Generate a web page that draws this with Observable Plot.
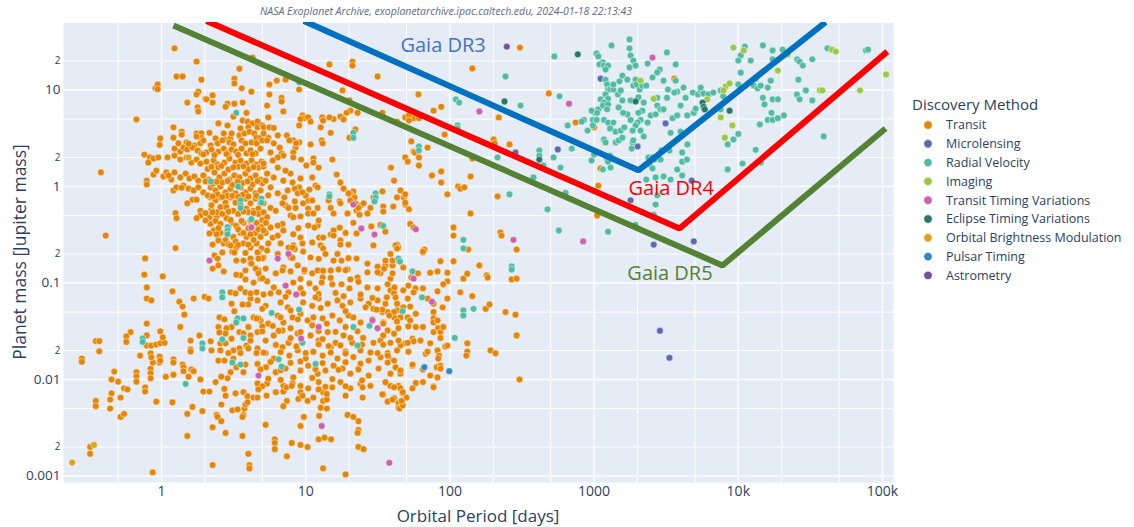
<!DOCTYPE html>
<html><head><meta charset="utf-8">
<script src="https://cdn.jsdelivr.net/npm/d3@7"></script>
<script src="https://cdn.jsdelivr.net/npm/@observablehq/plot@0.6"></script>
<style>
body{margin:0;background:#fff;}
#chart{width:1134px;height:527px;}
</style></head><body><div id="chart"></div>
<script>
const methods = ["Transit","Microlensing","Radial Velocity","Imaging","Transit Timing Variations","Eclipse Timing Variations","Orbital Brightness Modulation","Pulsar Timing","Astrometry"];
const methodColors = ["#E58606","#5D69B1","#52BCA3","#99C945","#CC61B0","#24796C","#DAA51B","#2F8AC4","#764E9F"];

// [orbital period (days), planet mass (Jupiter masses)]
const transitGiants = [
[1.23,27],[1.75,19.7],[1.27,13.8],[1.4,13.8],[1.89,12.8],[0.91,10.4],[0.94,11.4],[0.94,10.2],[1.8,9.6],[1.75,9.0],[2.02,8.1],[2.26,8.8],[3.2,13.1],[3.2,11.7],[3.47,16.6],[4.28,21.6],[3.6,10.4],[4.2,9.6],[5.6,11.4],[5.6,9.0],[6.3,12.5],[6.8,8.3],[7.25,12.8],[14.6,18.4],[18,9.9],[21.1,19.7],[21.1,17.9],[31.5,13.8],[60.5,9.0],[1.51,7.4],[2.26,7.4],[2.05,8.0],[1.78,6.6],[1.8,6.0],[0.67,4.95],[1.21,4.1],[1.38,3.7],[1.38,3.45],[1.21,3.2],[0.98,3.15],[0.97,2.7],[0.76,2.14],[0.83,2.0],[0.81,1.77],[0.88,1.95],[0.95,2.0],[0.38,1.4],[0.41,0.31],[0.79,1.15],[0.79,1.05],[0.88,1.33],[0.92,1.46],[1.25,0.53],[1.27,0.47],[1.25,0.23],
[2.87,7.2],[2.78,6.7],[3.2,7.2],[3.65,7.4],[3.88,5.8],[3.15,5.3],[3.65,4.83],[3.95,4.7],[4.28,4.5],[4.63,4.7],[2.48,4.5],[2.87,4.29],[3.53,4.0],[4.0,4.1],[4.63,4.1],[5.0,4.29],
[1.75,3.55],[1.89,3.55],[1.89,3.2],[1.75,3.3],[2.15,3.6],[2.37,3.15],[2.7,3.55],[2.73,3.07],[3.0,3.15],[3.06,3.55],[3.47,3.38],[3.76,3.55],[4.07,3.7],[4.4,3.55],[4.56,3.2],[4.86,3.2],
[1.49,2.86],[1.69,2.66],[1.86,2.8],[1.95,3.0],[2.19,2.66],[2.45,2.8],[2.64,3.0],[2.96,2.86],[3.15,2.73],[3.59,3.0],[3.82,2.8],[4.21,2.86],[4.56,2.8],[5.0,3.0],
[1.23,2.47],[1.35,2.3],[1.42,2.53],[1.51,2.42],[1.64,2.53],[1.78,2.36],[1.89,2.2],[2.05,2.25],[2.22,2.42],[2.48,2.3],[2.7,2.47],[2.91,2.25],[3.06,2.42],[3.3,2.3],[3.59,2.47],[3.88,2.2],[4.14,2.36],[4.49,2.2],[4.86,2.47],
[1.1,2.0],[1.23,2.09],[1.35,1.9],[1.49,2.0],[1.61,1.77],[1.75,1.9],[1.86,1.73],[2.05,1.81],[2.3,1.86],[2.45,1.69],[2.73,1.77],[2.96,1.95],[3.26,1.77],[3.53,1.86],[3.88,1.73],[4.21,1.86],[4.56,1.69],[4.93,1.81],
[1.03,1.27],[1.08,1.4],[1.17,1.18],[1.23,1.4],[1.35,1.24],[1.47,1.36],[1.56,1.21],[1.69,1.27],[1.8,1.15],[1.95,1.3],[2.12,1.18],[2.33,1.4],[2.52,1.24],[2.73,1.36],[2.96,1.18],[3.2,1.3],[3.47,1.24],[3.82,1.36],[4.14,1.21],[4.49,1.3],[4.86,1.18],
[1.21,0.91],[1.42,1.02],[1.54,0.95],[1.67,0.91],[1.8,0.98],[1.95,0.87],[2.19,0.98],[2.37,0.91],[2.56,1.0],[2.78,0.87],[3.01,0.95],[3.26,0.85],[3.53,0.98],[3.82,0.87],[4.14,0.95],[4.49,0.85],[4.86,0.91],
[1.64,0.73],[1.75,0.73],[1.51,0.67],[1.86,0.56],[1.86,0.5],[1.75,0.47],[2.22,0.58],[2.15,0.48],[2.41,0.49],
[2.19,0.77],[2.37,0.72],[2.56,0.77],[2.78,0.68],[3.01,0.77],[3.26,0.68],[3.82,0.75],[4.14,0.67],[4.49,0.75],[4.86,0.67],
[2.22,0.64],[2.56,0.61],[2.82,0.61],[3.15,0.56],[3.88,0.59],[4.35,0.56],[4.7,0.59],
[2.19,0.41],[2.37,0.44],[2.56,0.41],[2.82,0.47],[3.06,0.42],[3.3,0.39],[3.7,0.42],[4.14,0.38],[4.56,0.42],[4.93,0.38],
[2.3,0.35],[2.56,0.33],[2.82,0.33],[3.15,0.3],[3.53,0.33],[3.88,0.3],[4.49,0.33],[4.86,0.3],
[2.48,0.276],[2.7,0.257],[3.01,0.245],[3.3,0.233],[3.7,0.257],[4.14,0.233],[4.56,0.257],[4.93,0.228],
[2.09,1.52],[2.48,1.58],[2.91,1.5],[3.4,1.6],[4.0,1.51],[4.7,1.57],
[2.26,1.07],[2.64,1.1],[3.1,1.04],[3.65,1.09],[4.28,1.05],[5.0,1.08],
[2.09,0.81],[2.45,0.83],[2.87,0.8],[3.65,0.82],
[2.02,0.53],[2.41,0.54],[2.64,0.52],[2.91,0.55],[3.4,0.52],[4.0,0.54],[4.7,0.52],
[2.48,0.37],[2.91,0.38],[3.4,0.36],[4.0,0.37],[4.7,0.36],
[2.78,0.28],[3.26,0.27],[4.35,0.28],
[1.95,2.15],[2.33,2.12],[2.82,2.17],[3.4,2.13],[4.28,2.16],
[2.22,1.6],[2.6,1.63],[3.15,1.58],[3.7,1.62],[4.35,1.59],[5.1,1.61],
[2.02,1.13],[2.41,1.12],[2.87,1.14],[3.37,1.12],[3.95,1.13],[4.63,1.14],
[2.26,0.79],[2.64,0.78],[3.1,0.8],[3.4,0.78],[4.0,0.79],[4.56,0.8],
[2.26,0.54],[3.7,0.55],[4.35,0.53],[5.1,0.54],
[2.02,0.445],[3.01,0.45],[3.59,0.44],[4.14,0.445],[5.0,0.45],
[2.15,0.326],[2.41,0.32],[3.7,0.33],[4.14,0.32],[5.27,0.33],
[2.26,0.25],[2.91,0.252],[3.4,0.248],[4.0,0.25],
[2.64,0.207],[3.1,0.21],[3.82,0.205],[4.7,0.208],
[1.31,2.8],[1.54,2.78],[1.27,0.98],[1.38,0.97],[1.12,1.3]
];
const transitWarm = [
[8.2,3.0],[9.0,2.86],[8.5,2.53],[8.2,2.25],[6.8,2.2],[8.2,2.0],[9.3,1.9],[8.9,0.91],[9.0,0.98],[8.1,1.1],[8.4,0.95],[7.85,1.36],[9.2,1.21],[8.4,0.7],[8.8,0.85],[7.5,0.91],[7.1,0.77],[7.25,0.635],[7.6,0.6],[7.85,0.5],[8.2,0.48],[8.9,0.37],[8.2,0.32],[9.2,0.296],[8.2,0.245],[8.4,0.225],[6.9,0.41],[6.4,0.394],[5.7,0.376],[5.9,0.296],[6.4,0.31],[5.5,0.257],[6.8,7.6],[5.4,6.9],[7.0,6.0],[5.5,5.2],
[5.1,4.1],[5.6,4.1],[6.0,4.05],[5.1,3.55],[5.5,3.2],[6.4,3.38],[5.4,3.0],[6.0,2.8],[6.6,2.53],[7.4,3.38],[7.7,3.0],[8.6,2.8],[9.0,4.29],[7.0,2.09],[6.4,2.0],[5.7,2.25],[5.1,1.73],[5.9,1.86],[6.4,1.57],[7.25,1.46],[5.4,1.36],[6.0,1.24],[7.0,1.15],[5.7,0.98],[6.4,0.85],[5.1,0.67],[5.7,0.6],[6.9,0.67],[8.5,0.6],[5.4,0.48],[5.1,0.35],[7.0,0.35],[6.7,0.257],[7.6,0.233],[6.4,0.2],[7.85,0.184],[5.1,0.184],[5.27,1.15],[5.5,0.81],[6.2,0.56],[5.3,0.42],
[9.5,5.45],[9.7,5.1],[9.2,5.0],[10.4,5.2],[10.8,4.7],[13.0,5.2],[12.7,4.1],[14.9,3.6],[17.4,5.3],[18.3,4.95],[20.4,6.1],[22.9,5.8],[20.1,3.2],[34,5.8],[43,4.7],[49,5.2],[52,5.6],[56,5.1],[61,5.1],[77,6.1],[87,6.7],[92,3.45],[70,2.53],[54,2.93],[56,2.3],[49,2.0],[51,1.81],[61,1.65],[39,1.57],[41,1.15],[75,1.3],[87,1.43],[87,1.1],[96,0.83],
[10.8,2.73],[11.3,1.95],[11.3,1.77],[10.1,1.65],[12.3,1.57],[15.3,1.9],[16.4,1.33],[17.4,1.1],[18.3,0.95],[21.4,0.89],[20.4,0.83],[17.2,0.7],[34,0.89],[24,0.635],[22.5,0.564],[23.6,0.51],[34.5,0.62],[34.5,0.55],[40.5,0.62],[48,0.77],[49,0.65],[52,0.58],[21.4,0.42],[28.5,0.385],[35.7,0.34],[53,0.41],[29.5,0.245],[43,0.25],[44,0.232],[66.5,0.222],[17.2,0.375],[17.4,0.276],[17.4,0.25],[19.8,0.25],[22.5,0.326],[12.1,0.394],[11.5,0.376],[10.4,0.394],[10.4,0.59],[10.4,0.525],[10.4,0.716],[10,0.807],[11.1,1.24],[11.7,1.02],[12.1,0.98],[10.6,0.93],[9.6,0.67],[9.2,0.49],[9.5,0.257],[11.1,0.263],[12.4,0.296],[13.2,0.296],[14.9,0.318],[12.7,0.245],[13.2,0.228],
[12.9,3.0],[13.1,2.8],[19.8,0.85],[21.8,0.77],[22.1,0.67],[9.5,0.87],[11.1,0.716],[12.1,0.6],[11.3,0.525],[12.3,0.444],[14.4,0.716],[14.9,0.6],[15.6,0.525],[17.4,0.67],[19.5,0.525],[20.4,0.716],[23.2,0.6],[25.2,0.67],[28.1,0.6],[26.8,0.525],[29.5,0.77],[43,0.77],[45.4,0.91],[15.6,0.35],[15.6,0.31],[18.9,0.33],[13.2,4.83],[19.2,5.8],[20.1,7.8],[22.1,3.9],[15.6,5.0],[14.6,5.2],[9.0,10.1],
[306,27.5],[143,16.7],[218,5.2],[52,5.45],[52,4.83],[57,2.25],[61,2.0],[143,1.95],[139,1.27],[49,0.83],[49,0.68],[114,1.0],[118,0.95],[126,0.98],[139,0.525],[106,0.376],[106,0.31],[56,0.376],[33,0.4],[42,0.245],[65,0.207],[134,0.222],[224,0.334],[228,0.31],[290,0.222],[201,3.07],[204,2.8],[259,2.73],[214,0.79],[485,9.2],[745,4.6],[1000,4.1],[1108,1.54],[1070,1.02],[1050,0.5],[3600,13.1]
];
const transitSmall = [
[86,0.168],[106,0.168],[160,0.152],[73,0.128],[82,0.132],[96,0.128],[96,0.104],[124,0.111],[132,0.125],[180,0.12],[183,0.114],[268,0.109],[290,0.111],[54,0.114],[44,0.171],[35.7,0.152],[40,0.152],[40,0.171],[33,0.126],[38.7,0.111],[38.7,0.084],[41,0.078],[42,0.071],[51.5,0.094],[57.7,0.088],[70,0.069],[77,0.061],[89,0.056],[96,0.069],[118,0.08],[143,0.073],[177,0.054],[188,0.06],[243,0.05],[285,0.047],[290,0.0286],[77,0.05],[77,0.043],[77,0.039],[82,0.041],[77,0.031],[83,0.034],[86,0.031],[93,0.022],[82,0.02],[84,0.0177],[81,0.0134],[86,0.0139],[86,0.013],[82,0.0105],[77,0.0085],[68,0.0185],[55,0.0139],[58,0.0092],[65,0.0127],[132,0.0237],[132,0.0195],[130,0.0177],[191,0.02],[207,0.0187],[304,0.01],[55,0.0265],[56,0.0249],[49,0.0237],[45.4,0.0225],[41,0.0298],[44,0.034],[37,0.0322],[34.5,0.039],[35.7,0.061],[34,0.05],[41,0.044],[45.4,0.044],[51,0.044],[53,0.041],[58,0.048],[51.5,0.0355],[58,0.035],[47,0.052],[53,0.057],[43,0.052],[47.5,0.056],[37,0.05],[33,0.0253],[34.5,0.023],[37,0.0188],[37.5,0.017],[37,0.015],[42,0.0134],[41,0.0157],[33,0.017],[45.4,0.0115],[35.7,0.0093],[38.7,0.0086],[34.5,0.007],[37,0.0059],[41,0.0064],[44,0.0086],[45.4,0.0081],[47,0.0072],[44,0.0057],[47,0.0054],[50,0.0065],[44,0.0051],
[4.63,0.207],[5.4,0.217],[8.1,0.233],[9.6,0.212],[10.8,0.184],[13.7,0.2],[15.6,0.171],[16.6,0.2],[17.7,0.171],[22.5,0.179],[26.8,0.159],[31.5,0.148],[35.7,0.171],[38.7,0.2],[43,0.228],[65,0.212],
[4.14,0.159],[4.7,0.135],[5.27,0.141],[6.2,0.126],[7.0,0.145],[7.85,0.132],[8.8,0.152],[9.8,0.132],[11.1,0.126],[12.1,0.135],[13.1,0.114],[14.9,0.135],[16.9,0.138],[19.5,0.138],[22.9,0.114],[26.8,0.129],[31.5,0.129],[35,0.141],[40,0.126],[47.5,0.145],[60,0.126],
[4.35,0.101],[4.86,0.111],[5.4,0.104],[6.0,0.09],[8.2,0.101],[9.2,0.088],[10.6,0.099],[11.7,0.088],[12.9,0.101],[15.3,0.097],[17.7,0.097],[20.1,0.088],[23.2,0.103],[26.8,0.09],[31.5,0.088],[37,0.097],[41.3,0.09],[47.5,0.084],[56,0.08],[65,0.088],[82,0.082],[90,0.097],[4.56,0.08],[5.1,0.076],[6.5,0.08],[7.6,0.08],[9.6,0.078],
[4.14,0.069],[4.63,0.066],[5.27,0.058],[6.7,0.063],[7.5,0.056],[9.6,0.063],[11.1,0.058],[12.3,0.069],[14.2,0.061],[16.6,0.066],[18,0.058],[20.4,0.063],[24,0.069],[27.3,0.061],[31.5,0.066],[36.5,0.071],[43,0.061],[51,0.069],[41,0.05],[34,0.053],[29.5,0.054],[26,0.056],
[4.35,0.044],[4.86,0.041],[5.5,0.038],[6.4,0.046],[7.0,0.039],[8.1,0.044],[9.2,0.048],[10.3,0.041],[11.3,0.044],[14,0.038],[15.3,0.046],[17.2,0.041],[19.8,0.046],[24,0.039],[34.5,0.038],[38,0.046],[43,0.04],[65,0.035],[90,0.035],
[4.14,0.0286],[4.63,0.031],[5.27,0.0253],[6.0,0.0286],[6.9,0.0322],[7.6,0.024],[8.8,0.03],[10.8,0.0286],[12.3,0.0253],[14.2,0.031],[16.1,0.024],[18.3,0.0286],[21,0.024],[25,0.027],[29.5,0.024],[34.5,0.0286],[38.7,0.024],[44,0.0253],[51,0.024],[62.5,0.0253],[73,0.0237],[86,0.027],[96,0.0225],
[4.63,0.021],[5.27,0.0188],[6.0,0.0165],[6.9,0.0216],[7.7,0.0177],[8.8,0.02],[10,0.0165],[11.3,0.0194],[13.1,0.0177],[14.9,0.0216],[16.6,0.0165],[18.9,0.0194],[21.4,0.0171],[24,0.02],[27.3,0.0157],[31.5,0.0188],[37,0.0177],[43,0.02],[51.5,0.0194],[70,0.0194],[83,0.0165],
[4.63,0.0145],[5.3,0.0134],[6.2,0.0119],[7.25,0.013],[8.2,0.0105],[9.2,0.0124],[10.4,0.0139],[12.1,0.0115],[13.7,0.0124],[15.6,0.0139],[18,0.013],[20.4,0.0115],[23.2,0.013],[27.3,0.011],[32,0.013],[38.7,0.0115],[45.4,0.0124],[55,0.0143],[73,0.011],
[4.63,0.0091],[5.4,0.0091],[6.2,0.0074],[7.0,0.0086],[8.1,0.0091],[9.2,0.0074],[10.4,0.0081],[12.3,0.0094],[13.2,0.0074],[15.3,0.0083],[17.4,0.0094],[20.4,0.0081],[24,0.009],[28.1,0.0086],[35.7,0.0094],[41,0.0083],[47,0.0074],[55,0.0081],[65,0.0094],[77,0.0083],
[5.0,0.054],[7.85,0.052],[12.7,0.055],[18.9,0.051],[31,0.053],[5.0,0.0355],[5.9,0.036],[7.85,0.034],[11.1,0.0365],[18.9,0.035],[7.85,0.0268],[13.1,0.0262],[20.4,0.027],[6.2,0.0228],[8.6,0.022],[12.3,0.0232],[14.4,0.0222],[17.4,0.0226],[24.6,0.023],[5.7,0.0152],[7.85,0.0149],[9.2,0.0154],[13.1,0.0148],[18.9,0.0151],[24,0.0146],[5.5,0.0102],[6.7,0.0099],[11.1,0.0104],[15.3,0.0101],[24.6,0.0098],[5.7,0.078],[12.3,0.077],[16.1,0.079],[24,0.076],[5.0,0.112],[9.2,0.11],[14.9,0.113],[20.4,0.109],
[7.25,0.072],[11.7,0.071],[18.3,0.073],[29,0.07],
[4.7,0.043],[6.7,0.044],[8.8,0.042],[13.1,0.043],[21.4,0.044],[29,0.042],
[5.0,0.0315],[6.5,0.032],[9.2,0.031],[12.3,0.0318],[16.1,0.0312],[22.9,0.0316],
[5.1,0.019],[6.7,0.0192],[10,0.0188],[14.9,0.019],[18.9,0.0186],[28.1,0.0191],
[4.86,0.0127],[6.7,0.0125],[11.7,0.0128],[16.9,0.0126],[23.2,0.0127],
[5.0,0.0085],[9.2,0.0086],[13.7,0.0084],[18.9,0.0085],
[6.9,0.135],[9.8,0.137],[13.2,0.134],[18.9,0.136],
[5.0,0.18],[8.1,0.182],[12.3,0.178],[19.8,0.181],
[2.33,0.193],[2.45,0.179],[2.48,0.152],[2.7,0.132],[2.26,0.141],[3.01,0.245],[3.2,0.207],[3.3,0.171],[3.7,0.171],[3.82,0.135],[3.53,0.12],[3.3,0.122],[4.14,0.179],[4.2,0.159],[4.7,0.179],[4.49,0.141],[4.7,0.126],[3.82,0.109],[3.01,0.08],[3.26,0.078],[3.53,0.088],[3.82,0.08],[4.14,0.078],[4.0,0.06],[3.2,0.051],[3.65,0.06],[2.52,0.044],[2.73,0.042],[3.06,0.035],[2.82,0.034],[2.48,0.035],[2.78,0.03],[2.56,0.0237],[2.78,0.0237],[3.06,0.0265],[3.47,0.031],[3.7,0.03],[4.0,0.035],[4.56,0.043],[4.14,0.0253],[3.88,0.0225],[3.47,0.021],[3.15,0.02],[2.91,0.0188],[2.48,0.0157],[2.73,0.0157],[3.15,0.0165],[3.53,0.0188],[4.0,0.021],[4.56,0.0188],[3.82,0.0143],[3.3,0.0134],[3.01,0.0119],[2.87,0.0103],[2.6,0.0107],[3.7,0.0119],[3.7,0.0074],[3.26,0.0072],[2.78,0.0068],[2.52,0.0307],[2.56,0.02],[2.73,0.008],[3.06,0.061],[3.95,0.0067],
[0.77,0.18],[0.76,0.122],[1.02,0.117],[0.79,0.09],[0.79,0.069],[0.85,0.066],[1.19,0.082],[1.33,0.064],[1.4,0.057],[1.44,0.047],[1.67,0.069],[1.99,0.072],[2.12,0.069],[0.79,0.038],[1.35,0.035],[0.61,0.031],[0.57,0.028],[0.57,0.0245],[0.35,0.025],[0.37,0.025],[0.37,0.0196],[0.28,0.0165],[0.28,0.0153],[0.79,0.0286],[0.79,0.0225],[0.85,0.0225],[0.92,0.023],[0.98,0.0237],[1.05,0.024],[0.98,0.0316],[1.02,0.0274],[0.71,0.0177],[0.84,0.0187],[0.87,0.015],[0.85,0.017],[0.97,0.0173],[0.97,0.015],[0.98,0.0157],[1.21,0.0162],[1.21,0.015],[1.59,0.0253],[1.59,0.0205],[1.59,0.0195],[1.4,0.0143],[1.42,0.0134],[1.42,0.0122],[1.61,0.0127],[1.67,0.0122],[1.83,0.0286],[2.19,0.0249],[2.22,0.02],[1.54,0.0107],[1.86,0.01],[2.37,0.0094],[1.95,0.0075],[2.15,0.0075],[0.47,0.0121],[0.45,0.01],[0.5,0.0095],[0.67,0.0119],[0.67,0.0108],[0.67,0.0095],[0.55,0.0081],[0.58,0.0079],[0.77,0.0083],[0.77,0.0075],[0.84,0.0129],[0.84,0.0116],[0.84,0.0103],[1.07,0.0107],[1.21,0.0112],[0.45,0.0072],
[0.32,0.002],[0.32,0.0017],[0.35,0.006],[0.35,0.0053],[0.44,0.0062],[0.44,0.005],[0.52,0.0065],[0.52,0.0041],[0.55,0.0044],[0.87,0.00109],[0.92,0.0059],[1.19,0.0058],[1.51,0.0044],[1.51,0.0026],[1.64,0.0052],[1.92,0.0047],[2.26,0.0032],[2.26,0.0013],[2.41,0.0043],[2.45,0.0041],[2.6,0.0037],[2.6,0.0055],[2.78,0.0028],[3.1,0.0048],[3.37,0.0049],[3.7,0.0043],[3.64,0.0041],[3.76,0.005],[3.82,0.0055],[3.95,0.0058],[3.64,0.0026],[4.0,0.0017],[4.07,0.0013],[4.07,0.0012],[4.35,0.0065],[4.63,0.0065],[4.7,0.0079],[5.35,0.0068],[5.27,0.0034],[6.1,0.0024],[6.1,0.0022],[6.1,0.0019],[7.4,0.0016],[8.0,0.0022],[7.0,0.0075],[7.35,0.0083],[7.4,0.006],[7.0,0.0053],[8.0,0.0086],[8.9,0.0063],[9.2,0.0033],[9.2,0.0021],[9.7,0.0041],[9.5,0.0068],[10.3,0.006],[10.3,0.002],[11.3,0.0065],[12.3,0.0079],[12.4,0.0042],[12.3,0.0024],[12.7,0.0051],[13.2,0.006],[14,0.0062],[14,0.0071],[14,0.005],[13.5,0.0025],[13.2,0.0012],[15,0.0024],[18.9,0.0068],[19.5,0.0043],[21.4,0.0041],[23.2,0.0037],[23.2,0.003],[22.9,0.0028],[23.2,0.002],[25.2,0.0019],[18.9,0.00104],[24.8,0.0083],[24.8,0.0065],[34,0.007],[37,0.0059],[40,0.0062],[44.8,0.005],[47,0.0054],[46.3,0.006]
];
const microlensing = [[1110,13.1],[560,2.42],[2000,2.6],[3130,4.5],[4750,1.15],[1790,0.72],[2590,0.25],[4910,0.27],[285,2.25],[2860,0.032],[3330,0.0168]];
const radialVelocity = [
[3.3,5.8],[2.2,1.13],[3.4,1.0],[3.53,0.72],[3.53,0.64],[3.53,0.6],[4.93,0.75],[4.93,0.68],[4.2,0.46],[2.87,0.38],[2.87,0.35],[2.87,0.32],[9.0,12],[21.4,3.6],[21.4,3.2],[14.6,0.83],[14.6,0.79],[30.5,0.85],[30.5,0.77],[30,0.7],[34.5,0.39],[110,8.0],[116,7.4],[113,4.29],[113,4.0],[61,2.6],[61,2.36],[124,0.28],[124,0.228],[0.74,0.0266],[0.74,0.0245],[1.92,0.0237],[1.92,0.021],[1.47,0.009],[2.64,0.08],[2.64,0.071],[3.37,0.043],[3.7,0.043],[3.3,0.039],[2.64,0.026],[3.7,0.027],[3.1,0.015],[3.53,0.0143],[5.8,0.049],[9.0,0.053],[47,0.051],[64,0.071],[21.4,0.035],[27.7,0.036],[9.5,0.024],[22.9,0.0225],[6.5,0.0162],[6.8,0.0136],[11.7,0.0145],[44,0.179],[45,0.167],[55,0.132],[124,0.052],[124,0.046],[146,0.054],[108,0.027],[268,0.149],[268,0.138],[243,13.8],[309,6.9],[214,2.0],[259,0.83],[634,0.86],[417,2.36],[417,2.09],[445,1.65],[524,2.0],[700,2.47],[585,1.57],[380,1.24],[475,0.58],[570,0.35],[530,22.3],[575,8.6],
[1040,23.9],[1070,22.3],[1150,19.3],[1090,18.4],[1170,17.9],[1250,17.9],[1200,16.3],[1320,28.9],[1760,33.4],[1760,27],[1790,22.8],[1870,20.2],[1760,17.1],[1940,17.9],[3200,24.5],[2350,18.8],[3680,18.4],[2850,16.3],[2540,13.5],[2740,15.2],[3030,12.5],[3680,12.5],[1200,12.8],[1230,11.4],[1250,10.1],[1290,10.1],[1200,9.0],[1250,8.1],[1110,8.0],[1170,7.4],[1070,6.3],[1010,5.8],[960,6.1],[1050,5.8],[1150,6.9],[1250,7.1],[1230,6.3],[980,4.9],[850,4.9],[820,4.7],[655,4.29],[900,3.8],[980,4.29],[1040,4.9],[1170,4.9],[1250,4.6],[1360,4.6],[1290,4.0],[1410,3.7],[1530,3.8],[1620,4.1],[1790,4.9],[1700,5.6],[1590,5.8],[1480,6.6],[1570,7.8],[1460,9.0],[1530,9.9],[1360,10.1],[1360,11.4],[1500,12.3],[1570,14.1],[1700,12.8],[1870,11.1],[1940,12.8],[1970,11.4],[2070,10.1],[2160,11.1],[2300,11.1],[1790,7.8],[2030,8.4],[2210,7.4],[2160,6.1],[2030,5.8],[2100,4.9],[2000,4.6],[1940,4.29],[1850,3.8],[2100,3.8],[2350,4.6],[2470,5.45],[2670,5.6],[2740,6.9],[2890,6.3],[2740,8.3],[3030,6.3],[3200,8.3],[3500,5.1],[3770,5.45],[3980,6.9],[4430,5.45],[4910,5.8],[5060,6.4],[4310,8.3],[3770,9.6],[3600,9.4],[3250,10.1],[4170,10.6],[4830,9.4],[5250,9.0],[5480,9.9],[5740,9.2],[6200,9.0],[6710,9.4],[5480,10.6],[7550,9.9],[7860,8.6],[7550,6.3],[10000,11.4],[12200,11.7],[12800,11.1],[13600,10.4],[14300,11.1],[16000,10.6],[16800,12.5],[13200,13.1],[10400,15.1],[10400,22.8],[10000,20.2],[11100,28.2],[12200,20.2],[14800,28.9],[17300,20.8],[17300,25.7],[20300,26.2],[20700,22.8],[25600,20.8],[26600,19.7],[28000,17.9],[32600,20.8],[26100,12.8],[29400,9.9],[25500,9.0],[26600,8.0],[32600,7.8],[41500,27],[76800,25.7],[79400,26.2],[39100,3.3],[14800,8.3],[15200,7.1],[17300,8.0],[18800,8.0],[17000,5.8],[16000,4.9],[17300,4.9],[18800,5.1],[20700,5.45],[14100,4.4],[13200,2.4],[10700,1.73],[10000,3.5],[8440,1.5],[14300,1.77],[9250,3.07],[8440,2.73],
[1150,1.5],[960,1.86],[1000,2.14],[1230,1.9],[1290,2.09],[1250,1.81],[1300,1.57],[1410,2.86],[1480,3.0],[1570,3.2],[1170,3.07],[1200,2.86],[1850,2.86],[1820,2.47],[1870,3.0],[2210,3.3],[2380,2.0],[2540,2.0],[2620,1.9],[2420,1.69],[2540,1.54],[2300,1.18],[2670,1.24],[2740,0.81],[2670,0.65],[2590,0.51],[3030,1.27],[3390,1.18],[4080,1.3],[3770,1.5],[4080,1.81],[4400,1.9],[4430,2.73],[3980,3.7],[4080,2.25],[3330,2.36],[2890,1.9],[2930,2.36],[1940,0.4],[1250,0.34],[3390,3.6]
];
const imaging = [[2100,12.5],[2590,8.1],[6090,8.0],[7550,5.2],[8060,3.2],[9100,4.29],[8180,10.9],[8700,11.7],[7900,9.9],[9250,27.5],[10900,25.7],[22000,23.3],[18800,15.9],[36800,9.9],[38300,9.9],[44600,26.2],[47500,25],[106000,14.5],[69800,9.9]];
const ttv = [[2.15,0.171],[6.4,0.179],[7.6,0.2],[7.25,0.094],[8.6,0.076],[9.3,0.0265],[12.3,0.035],[29,0.041],[31.5,0.034],[4.7,0.011],[12.9,0.0033],[38,0.00137],[4.2,0.376],[21.4,0.65],[24.3,0.367],[30,0.318],[58,0.36],[56,0.111],[75,0.064],[160,6.0],[276,0.28],[670,7.2],[840,0.27],[2540,21.7]];
const etv = [[770,23.4],[239,7.6],[417,1.9],[1940,7.6],[5650,7.4],[5740,6.7],[5850,6.3],[8700,6.1]];
const obm = [[0.24,0.00138],[0.34,0.0021],[1.54,2.0]];
const pulsar = [[66.5,0.0134],[99,0.0122]];
const astrometry = [[248,28.2]];

const gaiaNames = ["Gaia DR3","Gaia DR4","Gaia DR5"];
const gaiaColors = ["#0070C0","#FF0000","#548235"];
const gaiaTextColors = ["#4472C4","#FF0000","#548235"];
const gaiaPeriod = [[9.7,2030,40300],[2.05,3910,108000],[1.21,7770,105000]];
const gaiaMass = [[52,1.47,50.5],[52,0.367,25],[46.6,0.152,3.99]];
const gaiaLabelPeriod = [45.4,1733,1700];
const gaiaLabelMass = [28.9,0.953,0.125];

const xMajor = [1,10,100,1000,10000,100000];
const xMajorLabels = ["1","10","100","1000","10k","100k"];
const xMinor = [0.5,2,5,20,50,200,500,2000,5000,20000,50000];
const yMajor = [0.001,0.01,0.1,1,10];
const yMajorLabels = ["0.001","0.01","0.1","1","10"];
const yMinor = [0.002,0.005,0.02,0.05,0.2,0.5,2,5,20,50];

const series = [transitGiants.concat(transitWarm, transitSmall), microlensing, radialVelocity, imaging, ttv, etv, obm, pulsar, astrometry];
const rows = [];
series.forEach((arr, i) => arr.forEach(([p, m]) => rows.push({p, m, method: methods[i]})));
const labelRows = gaiaNames.map((n, i) => ({p: gaiaLabelPeriod[i], m: gaiaLabelMass[i], name: n, color: gaiaTextColors[i]}));
const minorLabel = d => String(Math.round(d / Math.pow(10, Math.floor(Math.log10(d) + 1e-9))));
const tickColor = "#2a3f5f";

const chart = Plot.plot({
  width: 1134, height: 527,
  marginLeft: 63, marginRight: 241, marginTop: 22, marginBottom: 45,
  style: {background: "white", fontFamily: "'Open Sans', sans-serif", overflow: "visible"},
  x: {type: "log", domain: [0.209, 119200]},
  y: {type: "log", domain: [0.000857, 50.05]},
  color: {domain: methods, range: methodColors},
  marks: [
    Plot.frame({fill: "#E5ECF6", stroke: "none"}),
    Plot.gridX(xMinor, {stroke: "white", strokeOpacity: 1, strokeWidth: 1}),
    Plot.gridX(xMajor, {stroke: "white", strokeOpacity: 1, strokeWidth: 1.3}),
    Plot.gridY(yMinor, {stroke: "white", strokeOpacity: 1, strokeWidth: 1}),
    Plot.gridY(yMajor, {stroke: "white", strokeOpacity: 1, strokeWidth: 1.3}),
    Plot.axisX(xMajor, {anchor: "bottom", tickSize: 0, tickPadding: 4, fontSize: 14, fill: tickColor, label: null, tickFormat: d => xMajorLabels[xMajor.indexOf(d)]}),
    Plot.axisX(xMinor, {anchor: "bottom", tickSize: 0, tickPadding: 3, fontSize: 10, fill: tickColor, label: null, tickFormat: minorLabel}),
    Plot.axisY(yMajor, {anchor: "left", tickSize: 0, tickPadding: 3, fontSize: 13.5, fill: tickColor, label: null, tickFormat: d => yMajorLabels[yMajor.indexOf(d)]}),
    Plot.axisY(yMinor, {anchor: "left", tickSize: 0, tickPadding: 3, fontSize: 10, fill: tickColor, label: null, tickFormat: minorLabel}),
    Plot.dot(rows, {x: "p", y: "m", fill: "method", r: 3.4, stroke: "white", strokeWidth: 0.6, strokeOpacity: 0.8}),
    ...gaiaNames.map((n, i) => Plot.line(gaiaPeriod[i].map((p, j) => ({p, m: gaiaMass[i][j]})), {x: "p", y: "m", stroke: gaiaColors[i], strokeWidth: 6, strokeLinejoin: "miter", strokeLinecap: "butt", clip: true})),
    Plot.text(labelRows, {x: "p", y: "m", text: "name", fill: "color", fontSize: 20, textAnchor: "start", lineAnchor: "middle", fontFamily: "'Open Sans', sans-serif"})
  ]
});

const svg = d3.select(chart);
svg.append("text").attr("x", 446).attr("y", 15).attr("text-anchor", "middle")
  .attr("font-size", 10.5).attr("font-style", "italic").attr("fill", "#5f6b85")
  .text("NASA Exoplanet Archive, exoplanetarchive.ipac.caltech.edu, 2024-01-18 22:13:43");
svg.append("text").attr("x", 478).attr("y", 522).attr("text-anchor", "middle")
  .attr("font-size", 17).attr("fill", tickColor).text("Orbital Period [days]");
svg.append("text").attr("transform", "translate(25.5,252) rotate(-90)").attr("text-anchor", "middle")
  .attr("font-size", 17.5).attr("fill", tickColor).text("Planet mass [Jupiter mass]");

const legend = svg.append("g").attr("font-family", "'Open Sans', sans-serif").attr("text-anchor", "start");
legend.append("text").attr("x", 912).attr("y", 110).attr("font-size", 15).attr("fill", tickColor).attr("text-anchor", "start").text("Discovery Method");
methods.forEach((m, i) => {
  const cy = 125 + i * 18.8;
  legend.append("circle").attr("cx", 928).attr("cy", cy).attr("r", 4.2).attr("fill", methodColors[i]).attr("stroke", "white").attr("stroke-width", 0.5);
  legend.append("text").attr("x", 946).attr("y", cy + 4.4).attr("font-size", 12.5).attr("fill", tickColor).attr("text-anchor", "start").text(m);
});

document.getElementById("chart").appendChild(chart);
</script>
</body></html>
